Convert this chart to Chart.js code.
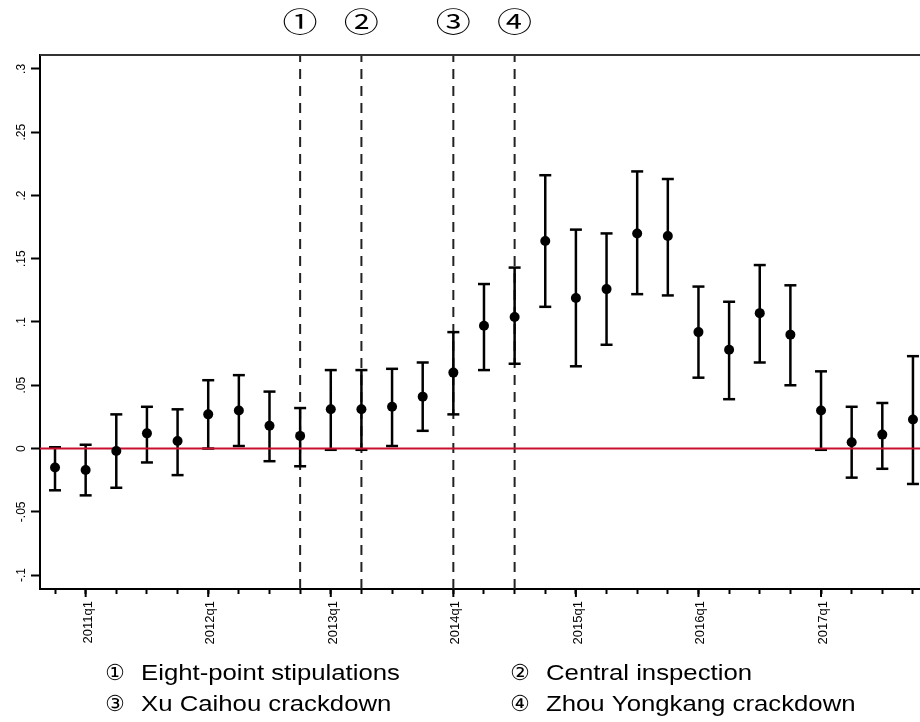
<!DOCTYPE html>
<html>
<head>
<meta charset="utf-8">
<script src="https://cdn.jsdelivr.net/npm/chart.js@4.4.1/dist/chart.umd.min.js"></script>
<style>
  html, body { margin: 0; padding: 0; background: #fff; overflow: hidden; }
  #wrap { width: 920px; height: 722px; position: relative; }
</style>
</head>
<body>
<div id="wrap"><canvas id="grafico"></canvas></div>
<script>
// quarters on the x axis, 2010q4 .. 2017q4
const quarters = ['2010q4',
  '2011q1', '2011q2', '2011q3', '2011q4',
  '2012q1', '2012q2', '2012q3', '2012q4',
  '2013q1', '2013q2', '2013q3', '2013q4',
  '2014q1', '2014q2', '2014q3', '2014q4',
  '2015q1', '2015q2', '2015q3', '2015q4',
  '2016q1', '2016q2', '2016q3', '2016q4',
  '2017q1', '2017q2', '2017q3', '2017q4'];

// point estimates and confidence bounds
const coef = [-0.015, -0.017, -0.002, 0.012, 0.006, 0.027, 0.030, 0.018, 0.010,
  0.031, 0.031, 0.033, 0.041, 0.060, 0.097, 0.104, 0.164, 0.119, 0.126, 0.170,
  0.168, 0.092, 0.078, 0.107, 0.090, 0.030, 0.005, 0.011, 0.023];
const ciHigh = [0.001, 0.003, 0.027, 0.033, 0.031, 0.054, 0.058, 0.045, 0.032,
  0.062, 0.062, 0.063, 0.068, 0.092, 0.130, 0.143, 0.216, 0.173, 0.170, 0.219,
  0.213, 0.128, 0.116, 0.145, 0.129, 0.061, 0.033, 0.036, 0.073];
const ciLow = [-0.033, -0.037, -0.031, -0.011, -0.021, 0.000, 0.002, -0.010, -0.014,
  -0.001, -0.001, 0.002, 0.014, 0.027, 0.062, 0.067, 0.112, 0.065, 0.082, 0.122,
  0.121, 0.056, 0.039, 0.068, 0.050, -0.001, -0.023, -0.016, -0.028];

const yTicks = [0.3, 0.25, 0.2, 0.15, 0.1, 0.05, 0, -0.05, -0.1];
const yTickLabels = ['.3', '.25', '.2', '.15', '.1', '.05', '0', '-.05', '-.1'];

// policy events (dashed lines)
const eventQuarters = ['2012q4', '2013q2', '2014q1', '2014q3'];
const eventMarks = ['\u2460', '\u2461', '\u2462', '\u2463'];
const eventNames = ['Eight-point stipulations', 'Central inspection',
  'Xu Caihou crackdown', 'Zhou Yongkang crackdown'];

const xMin = -0.49, xMax = 28.23;
const yMin = -0.111, yMax = 0.311;

const puntos = coef.map((v, i) => ({ x: i, y: v }));
const tallos = [];
const topes = [];
coef.forEach((v, i) => {
  tallos.push({ x: i, y: ciLow[i] }, { x: i, y: ciHigh[i] }, { x: i, y: null });
  topes.push({ x: i, y: ciLow[i] }, { x: i, y: ciHigh[i] });
});

const lineasEvento = eventQuarters.map(q => {
  const i = quarters.indexOf(q);
  return {
    type: 'line',
    data: [{ x: i, y: yMin }, { x: i, y: yMax }],
    borderColor: '#222',
    borderWidth: 2,
    borderDash: [10, 7],
    pointRadius: 0,
    order: 5
  };
});

const textos = {
  id: 'textos',
  afterDraw(chart) {
    const ctx = chart.ctx;
    const sx = chart.scales.x, sy = chart.scales.y;
    const area = chart.chartArea;
    ctx.save();

    // marco superior
    ctx.strokeStyle = '#333';
    ctx.lineWidth = 2;
    ctx.beginPath();
    ctx.moveTo(area.left, area.top);
    ctx.lineTo(area.right, area.top);
    ctx.stroke();

    // ticks largos en q1
    ctx.strokeStyle = '#000';
    quarters.forEach((q, i) => {
      if (!q.endsWith('q1')) return;
      const px = sx.getPixelForValue(i);
      ctx.beginPath();
      ctx.moveTo(px, area.bottom);
      ctx.lineTo(px, area.bottom + 8);
      ctx.stroke();
    });

    ctx.fillStyle = '#000';

    // etiquetas eje y
    ctx.font = '12px "Liberation Sans", Arial, sans-serif';
    ctx.textAlign = 'center';
    ctx.textBaseline = 'middle';
    yTicks.forEach((v, i) => {
      ctx.save();
      ctx.translate(22, sy.getPixelForValue(v));
      ctx.rotate(-Math.PI / 2);
      ctx.fillText(yTickLabels[i], 0, 0);
      ctx.restore();
    });

    // etiquetas eje x
    ctx.font = '13px "Liberation Sans", Arial, sans-serif';
    ctx.textAlign = 'right';
    ctx.textBaseline = 'alphabetic';
    quarters.forEach((q, i) => {
      if (!q.endsWith('q1')) return;
      ctx.save();
      ctx.translate(sx.getPixelForValue(i) + 6, area.bottom + 12);
      ctx.rotate(-Math.PI / 2);
      ctx.fillText(q, 0, 0);
      ctx.restore();
    });

    // numeros arriba de las lineas
    ctx.textAlign = 'center';
    ctx.textBaseline = 'middle';
    ctx.font = '27px "DejaVu Serif", "Noto Sans CJK SC", serif';
    eventQuarters.forEach((q, k) => {
      const px = sx.getPixelForValue(quarters.indexOf(q));
      ctx.save();
      ctx.translate(px, 25);
      ctx.scale(1.3, 1);
      ctx.fillText(eventMarks[k], 0, 0);
      ctx.restore();
    });

    // leyenda abajo
    const colX = [105, 510];
    const filaY = [680, 711];
    eventNames.forEach((nombre, k) => {
      const cx = colX[k % 2], by = filaY[Math.floor(k / 2)];
      ctx.textAlign = 'left';
      ctx.textBaseline = 'alphabetic';
      ctx.font = '22px "DejaVu Sans", "Noto Sans CJK SC", sans-serif';
      ctx.fillText(eventMarks[k], cx, by);
      ctx.save();
      ctx.translate(cx + 36, by);
      ctx.scale(1.17, 1);
      ctx.font = '22px "Liberation Sans", Arial, sans-serif';
      ctx.fillText(nombre, 0, 0);
      ctx.restore();
    });

    ctx.restore();
  }
};

const ctx = document.getElementById('grafico').getContext('2d');

const myChart = new Chart(ctx, {
  data: {
    datasets: [
      {
        type: 'scatter',
        data: puntos,
        pointRadius: 5,
        pointBackgroundColor: '#000',
        pointBorderWidth: 0,
        order: 0
      },
      {
        type: 'scatter',
        data: topes,
        pointStyle: 'line',
        pointRadius: 6,
        pointBorderColor: '#000',
        pointBorderWidth: 2.5,
        order: 2
      },
      {
        type: 'line',
        data: tallos,
        borderColor: '#000',
        borderWidth: 2.5,
        pointRadius: 0,
        spanGaps: false,
        order: 3
      },
      {
        type: 'line',
        data: [{ x: xMin, y: 0 }, { x: xMax, y: 0 }],
        borderColor: '#c8102e',
        borderWidth: 2,
        pointRadius: 0,
        order: 1
      },
      ...lineasEvento
    ]
  },
  options: {
    responsive: true,
    maintainAspectRatio: false,
    animation: false,
    layout: { autoPadding: false, padding: { top: 55, right: 0, left: 0, bottom: 0 } },
    plugins: {
      legend: { display: false },
      tooltip: { enabled: false }
    },
    scales: {
      x: {
        type: 'linear',
        min: xMin,
        max: xMax,
        afterFit: s => { s.height = 133; },
        afterBuildTicks: s => { s.ticks = quarters.map((q, i) => ({ value: i })); },
        ticks: { display: false },
        grid: {
          drawOnChartArea: false,
          drawTicks: true,
          tickLength: 5,
          tickWidth: 2,
          tickColor: '#000'
        },
        border: { display: true, color: '#000', width: 2 }
      },
      y: {
        type: 'linear',
        min: yMin,
        max: yMax,
        afterFit: s => { s.width = 40; },
        afterBuildTicks: s => { s.ticks = yTicks.map(v => ({ value: v })); },
        ticks: { display: false },
        grid: {
          drawOnChartArea: false,
          drawTicks: true,
          tickLength: 9,
          tickWidth: 2,
          tickColor: '#000'
        },
        border: { display: true, color: '#000', width: 2 }
      }
    }
  },
  plugins: [textos]
});
</script>
</body>
</html>
